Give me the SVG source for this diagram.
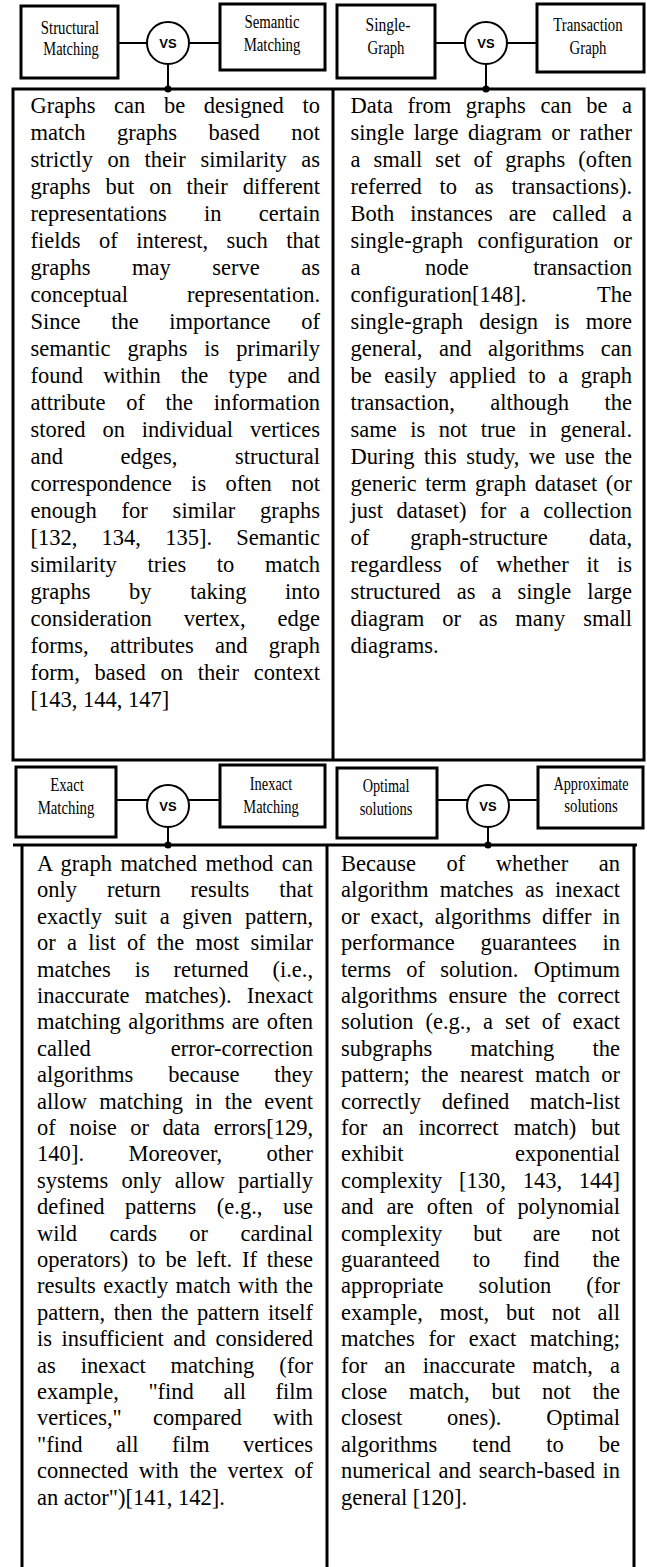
<svg xmlns="http://www.w3.org/2000/svg" width="647" height="1567" viewBox="0 0 647 1567">
  <style>
    .box { fill: #fff; stroke: #000; stroke-width: 3; }
    .hub { fill: #fff; stroke: #000; stroke-width: 2; }
    .wire { stroke: #000; stroke-width: 2; fill: none; }
    .frame { fill: none; stroke: #000; stroke-width: 3; }
    .lbl { font-family: "Liberation Serif", "Times New Roman", serif; font-size: 18.5px; text-anchor: middle; fill: #000; }
    .vs { font-family: "Liberation Sans", Arial, sans-serif; font-weight: bold; font-size: 13px; text-anchor: middle; fill: #000; }
    .body { font-family: "Liberation Serif", "Times New Roman", serif; font-size: 22.5px; fill: #000; }
  </style>

  <!-- panel frames -->
  <g id="frames">
    <rect class="frame" x="13" y="89" width="631" height="671"/>
    <line class="frame" x1="333" y1="89" x2="333" y2="760"/>
    <line class="frame" x1="13" y1="845" x2="637" y2="845"/>
    <line class="frame" x1="22" y1="845" x2="22" y2="1567"/>
    <line class="frame" x1="327" y1="845" x2="327" y2="1567"/>
    <line class="frame" x1="634" y1="845" x2="634" y2="1567"/>
  </g>

  <!-- connectors: box to hub, hub to panel -->
  <g id="connectors">
    <line class="wire" x1="118" y1="43" x2="147" y2="43"/>
    <line class="wire" x1="189" y1="43" x2="220" y2="43"/>
    <line class="wire" x1="168" y1="64" x2="168" y2="89"/>
    <circle cx="168" cy="89" r="3.5"/>
    <line class="wire" x1="435" y1="43" x2="465" y2="43"/>
    <line class="wire" x1="507" y1="43" x2="537" y2="43"/>
    <line class="wire" x1="486" y1="64" x2="486" y2="89"/>
    <circle cx="486" cy="89" r="3.5"/>
    <line class="wire" x1="116" y1="800" x2="148" y2="800"/>
    <line class="wire" x1="188" y1="800" x2="220" y2="800"/>
    <line class="wire" x1="168" y1="827" x2="168" y2="845"/>
    <circle cx="168" cy="845" r="3.5"/>
    <line class="wire" x1="437" y1="800" x2="468" y2="800"/>
    <line class="wire" x1="508" y1="800" x2="538" y2="800"/>
    <line class="wire" x1="488" y1="827" x2="488" y2="845"/>
    <circle cx="488" cy="845" r="3.5"/>
  </g>

  <!-- header row 1 (labels set in a narrowed serif) -->
  <g id="structural-matching">
    <rect class="box" x="21" y="6" width="97" height="72"/>
    <text class="lbl" transform="translate(70,34) scale(0.8,1)">Structural</text>
    <text class="lbl" transform="translate(71,55) scale(0.78,1)">Matching</text>
  </g>
  <g id="vs-1">
    <circle class="hub" cx="168" cy="43" r="21"/>
    <text class="vs" x="168" y="48">VS</text>
  </g>
  <g id="semantic-matching">
    <rect class="box" x="220" y="4" width="105" height="66"/>
    <text class="lbl" transform="translate(272,28) scale(0.8,1)">Semantic</text>
    <text class="lbl" transform="translate(272,51) scale(0.8,1)">Matching</text>
  </g>
  <g id="single-graph">
    <rect class="box" x="337" y="5" width="98" height="73"/>
    <text class="lbl" transform="translate(388,31) scale(0.84,1)">Single-</text>
    <text class="lbl" transform="translate(386,54) scale(0.8,1)">Graph</text>
  </g>
  <g id="vs-2">
    <circle class="hub" cx="486" cy="43" r="21"/>
    <text class="vs" x="486" y="48">VS</text>
  </g>
  <g id="transaction-graph">
    <rect class="box" x="537" y="4" width="107" height="68"/>
    <text class="lbl" transform="translate(588,31) scale(0.8,1)">Transaction</text>
    <text class="lbl" transform="translate(588,54) scale(0.8,1)">Graph</text>
  </g>

  <!-- header row 2 -->
  <g id="exact-matching">
    <rect class="box" x="16" y="767" width="100" height="70"/>
    <text class="lbl" transform="translate(67,791) scale(0.8,1)">Exact</text>
    <text class="lbl" transform="translate(66,814) scale(0.8,1)">Matching</text>
  </g>
  <g id="vs-3">
    <circle class="hub" cx="168" cy="806" r="21"/>
    <text class="vs" x="168" y="811">VS</text>
  </g>
  <g id="inexact-matching">
    <rect class="box" x="220" y="765" width="105" height="62"/>
    <text class="lbl" transform="translate(271,790) scale(0.78,1)">Inexact</text>
    <text class="lbl" transform="translate(271,813) scale(0.78,1)">Matching</text>
  </g>
  <g id="optimal-solutions">
    <rect class="box" x="337" y="768" width="100" height="70"/>
    <text class="lbl" transform="translate(386,792) scale(0.77,1)">Optimal</text>
    <text class="lbl" transform="translate(386,815) scale(0.79,1)">solutions</text>
  </g>
  <g id="vs-4">
    <circle class="hub" cx="488" cy="806" r="21"/>
    <text class="vs" x="488" y="811">VS</text>
  </g>
  <g id="approximate-solutions">
    <rect class="box" x="538" y="767" width="105" height="61"/>
    <text class="lbl" transform="translate(591,790) scale(0.77,1)">Approximate</text>
    <text class="lbl" transform="translate(591,812) scale(0.8,1)">solutions</text>
  </g>

  <!-- panel: structural vs semantic -->
  <g id="panel-structural-semantic" class="body">
    <text x="30.5" y="113" textLength="289.5" lengthAdjust="spacing" word-spacing="13">Graphs can be designed to</text>
    <text x="30.5" y="140" textLength="289.5" lengthAdjust="spacing" word-spacing="25.9">match graphs based not</text>
    <text x="30.5" y="167" textLength="289.5" lengthAdjust="spacing" word-spacing="8.9">strictly on their similarity as</text>
    <text x="30.5" y="194" textLength="289.5" lengthAdjust="spacing" word-spacing="9.2">graphs but on their different</text>
    <text x="30.5" y="221" textLength="289.5" lengthAdjust="spacing" word-spacing="31.6">representations in certain</text>
    <text x="30.5" y="248" textLength="289.5" lengthAdjust="spacing" word-spacing="12.8">fields of interest, such that</text>
    <text x="30.5" y="275" textLength="289.5" lengthAdjust="spacing" word-spacing="35.9">graphs may serve as</text>
    <text x="30.5" y="302" textLength="289.5" lengthAdjust="spacing" word-spacing="53.3">conceptual representation.</text>
    <text x="30.5" y="329" textLength="289.5" lengthAdjust="spacing" word-spacing="25">Since the importance of</text>
    <text x="30.5" y="356" textLength="289.5" lengthAdjust="spacing" word-spacing="11.3">semantic graphs is primarily</text>
    <text x="30.5" y="383" textLength="289.5" lengthAdjust="spacing" word-spacing="14.6">found within the type and</text>
    <text x="30.5" y="410" textLength="289.5" lengthAdjust="spacing" word-spacing="15">attribute of the information</text>
    <text x="30.5" y="437" textLength="289.5" lengthAdjust="spacing" word-spacing="11.3">stored on individual vertices</text>
    <text x="30.5" y="464" textLength="289.5" lengthAdjust="spacing" word-spacing="52">and edges, structural</text>
    <text x="30.5" y="491" textLength="289.5" lengthAdjust="spacing" word-spacing="13.8">correspondence is often not</text>
    <text x="30.5" y="518" textLength="289.5" lengthAdjust="spacing" word-spacing="19.2">enough for similar graphs</text>
    <text x="30.5" y="545" textLength="289.5" lengthAdjust="spacing" word-spacing="18.6">[132, 134, 135]. Semantic</text>
    <text x="30.5" y="572" textLength="289.5" lengthAdjust="spacing" word-spacing="25">similarity tries to match</text>
    <text x="30.5" y="599" textLength="289.5" lengthAdjust="spacing" word-spacing="33">graphs by taking into</text>
    <text x="30.5" y="626" textLength="289.5" lengthAdjust="spacing" word-spacing="26.3">consideration vertex, edge</text>
    <text x="30.5" y="653" textLength="289.5" lengthAdjust="spacing" word-spacing="15.7">forms, attributes and graph</text>
    <text x="30.5" y="680" textLength="289.5" lengthAdjust="spacing" word-spacing="9.1">form, based on their context</text>
    <text x="30.5" y="707">[143, 144, 147]</text>
  </g>

  <!-- panel: single-graph vs transaction graph -->
  <g id="panel-single-transaction" class="body">
    <text x="350.5" y="113" textLength="281.5" lengthAdjust="spacing" word-spacing="8.9">Data from graphs can be a</text>
    <text x="350.5" y="140" textLength="281.5" lengthAdjust="spacing" word-spacing="3.8">single large diagram or rather</text>
    <text x="350.5" y="167" textLength="281.5" lengthAdjust="spacing" word-spacing="7.4">a small set of graphs (often</text>
    <text x="350.5" y="194" textLength="281.5" lengthAdjust="spacing" word-spacing="12.2">referred to as transactions).</text>
    <text x="350.5" y="221" textLength="281.5" lengthAdjust="spacing" word-spacing="10.4">Both instances are called a</text>
    <text x="350.5" y="248" textLength="281.5" lengthAdjust="spacing" word-spacing="8.9">single-graph configuration or</text>
    <text x="350.5" y="275" textLength="281.5" lengthAdjust="spacing" word-spacing="58.9">a node transaction</text>
    <text x="350.5" y="302" textLength="281.5" lengthAdjust="spacing" word-spacing="65.3">configuration[148]. The</text>
    <text x="350.5" y="329" textLength="281.5" lengthAdjust="spacing" word-spacing="10.7">single-graph design is more</text>
    <text x="350.5" y="356" textLength="281.5" lengthAdjust="spacing" word-spacing="10.9">general, and algorithms can</text>
    <text x="350.5" y="383" textLength="281.5" lengthAdjust="spacing" word-spacing="6.9">be easily applied to a graph</text>
    <text x="350.5" y="410" textLength="281.5" lengthAdjust="spacing" word-spacing="29.8">transaction, although the</text>
    <text x="350.5" y="437" textLength="281.5" lengthAdjust="spacing" word-spacing="7.8">same is not true in general.</text>
    <text x="350.5" y="464" textLength="281.5" lengthAdjust="spacing" word-spacing="3.8">During this study, we use the</text>
    <text x="350.5" y="491" textLength="281.5" lengthAdjust="spacing" word-spacing="2.9">generic term graph dataset (or</text>
    <text x="350.5" y="518" textLength="281.5" lengthAdjust="spacing" word-spacing="7.9">just dataset) for a collection</text>
    <text x="350.5" y="545" textLength="281.5" lengthAdjust="spacing" word-spacing="35.5">of graph-structure data,</text>
    <text x="350.5" y="572" textLength="281.5" lengthAdjust="spacing" word-spacing="12.3">regardless of whether it is</text>
    <text x="350.5" y="599" textLength="281.5" lengthAdjust="spacing" word-spacing="10.4">structured as a single large</text>
    <text x="350.5" y="626" textLength="281.5" lengthAdjust="spacing" word-spacing="12.2">diagram or as many small</text>
    <text x="350.5" y="653">diagrams.</text>
  </g>

  <!-- panel: exact vs inexact -->
  <g id="panel-exact-inexact" class="body">
    <text x="37" y="871" textLength="276" lengthAdjust="spacing" word-spacing="2.8">A graph matched method can</text>
    <text x="37" y="897.4" textLength="276" lengthAdjust="spacing" word-spacing="24.3">only return results that</text>
    <text x="37" y="923.8" textLength="276" lengthAdjust="spacing" word-spacing="7">exactly suit a given pattern,</text>
    <text x="37" y="950.2" textLength="276" lengthAdjust="spacing" word-spacing="5.6">or a list of the most similar</text>
    <text x="37" y="976.6" textLength="276" lengthAdjust="spacing" word-spacing="18.3">matches is returned (i.e.,</text>
    <text x="37" y="1003" textLength="276" lengthAdjust="spacing" word-spacing="9.6">inaccurate matches). Inexact</text>
    <text x="37" y="1029.4" textLength="276" lengthAdjust="spacing" word-spacing="1.8">matching algorithms are often</text>
    <text x="37" y="1055.8" textLength="276" lengthAdjust="spacing" word-spacing="74.2">called error-correction</text>
    <text x="37" y="1082.2" textLength="276" lengthAdjust="spacing" word-spacing="29.2">algorithms because they</text>
    <text x="37" y="1108.6" textLength="276" lengthAdjust="spacing" word-spacing="6.5">allow matching in the event</text>
    <text x="37" y="1135" textLength="276" lengthAdjust="spacing" word-spacing="7.9">of noise or data errors[129,</text>
    <text x="37" y="1161.4" textLength="276" lengthAdjust="spacing" word-spacing="38.6">140]. Moreover, other</text>
    <text x="37" y="1187.8" textLength="276" lengthAdjust="spacing" word-spacing="7.6">systems only allow partially</text>
    <text x="37" y="1214.2" textLength="276" lengthAdjust="spacing" word-spacing="14.9">defined patterns (e.g., use</text>
    <text x="37" y="1240.6" textLength="276" lengthAdjust="spacing" word-spacing="26.8">wild cards or cardinal</text>
    <text x="37" y="1267" textLength="276" lengthAdjust="spacing" word-spacing="4.2">operators) to be left. If these</text>
    <text x="37" y="1293.4" textLength="276" lengthAdjust="spacing" word-spacing="1.8">results exactly match with the</text>
    <text x="37" y="1319.8" textLength="276" lengthAdjust="spacing" word-spacing="2.9">pattern, then the pattern itself</text>
    <text x="37" y="1346.2" textLength="276" lengthAdjust="spacing" word-spacing="3.9">is insufficient and considered</text>
    <text x="37" y="1372.6" textLength="276" lengthAdjust="spacing" word-spacing="19.3">as inexact matching (for</text>
    <text x="37" y="1399" textLength="276" lengthAdjust="spacing" word-spacing="23.9">example, "find all film</text>
    <text x="37" y="1425.4" textLength="276" lengthAdjust="spacing" word-spacing="25.6">vertices," compared with</text>
    <text x="37" y="1451.8" textLength="276" lengthAdjust="spacing" word-spacing="27.9">"find all film vertices</text>
    <text x="37" y="1478.2" textLength="276" lengthAdjust="spacing" word-spacing="4.9">connected with the vertex of</text>
    <text x="37" y="1504.6">an actor")[141, 142].</text>
  </g>

  <!-- panel: optimal vs approximate -->
  <g id="panel-optimal-approximate" class="body">
    <text x="341" y="871" textLength="279" lengthAdjust="spacing" word-spacing="24.9">Because of whether an</text>
    <text x="341" y="897.4" textLength="279" lengthAdjust="spacing" word-spacing="5.7">algorithm matches as inexact</text>
    <text x="341" y="923.8" textLength="279" lengthAdjust="spacing" word-spacing="5.2">or exact, algorithms differ in</text>
    <text x="341" y="950.2" textLength="279" lengthAdjust="spacing" word-spacing="20.2">performance guarantees in</text>
    <text x="341" y="976.6" textLength="279" lengthAdjust="spacing" word-spacing="9.7">terms of solution. Optimum</text>
    <text x="341" y="1003" textLength="279" lengthAdjust="spacing" word-spacing="5.7">algorithms ensure the correct</text>
    <text x="341" y="1029.4" textLength="279" lengthAdjust="spacing" word-spacing="6.3">solution (e.g., a set of exact</text>
    <text x="341" y="1055.8" textLength="279" lengthAdjust="spacing" word-spacing="32.6">subgraphs matching the</text>
    <text x="341" y="1082.2" textLength="279" lengthAdjust="spacing" word-spacing="5.7">pattern; the nearest match or</text>
    <text x="341" y="1108.6" textLength="279" lengthAdjust="spacing" word-spacing="15.1">correctly defined match-list</text>
    <text x="341" y="1135" textLength="279" lengthAdjust="spacing" word-spacing="9.4">for an incorrect match) but</text>
    <text x="341" y="1161.4" textLength="279" lengthAdjust="spacing" word-spacing="105.9">exhibit exponential</text>
    <text x="341" y="1187.8" textLength="279" lengthAdjust="spacing" word-spacing="11.1">complexity [130, 143, 144]</text>
    <text x="341" y="1214.2" textLength="279" lengthAdjust="spacing" word-spacing="7.3">and are often of polynomial</text>
    <text x="341" y="1240.6" textLength="279" lengthAdjust="spacing" word-spacing="25.3">complexity but are not</text>
    <text x="341" y="1267" textLength="279" lengthAdjust="spacing" word-spacing="27.4">guaranteed to find the</text>
    <text x="341" y="1293.4" textLength="279" lengthAdjust="spacing" word-spacing="29.5">appropriate solution (for</text>
    <text x="341" y="1319.8" textLength="279" lengthAdjust="spacing" word-spacing="11.3">example, most, but not all</text>
    <text x="341" y="1346.2" textLength="279" lengthAdjust="spacing" word-spacing="8.2">matches for exact matching;</text>
    <text x="341" y="1372.6" textLength="279" lengthAdjust="spacing" word-spacing="11.5">for an inaccurate match, a</text>
    <text x="341" y="1399" textLength="279" lengthAdjust="spacing" word-spacing="16.1">close match, but not the</text>
    <text x="341" y="1425.4" textLength="279" lengthAdjust="spacing" word-spacing="39.2">closest ones). Optimal</text>
    <text x="341" y="1451.8" textLength="279" lengthAdjust="spacing" word-spacing="29.5">algorithms tend to be</text>
    <text x="341" y="1478.2" textLength="279" lengthAdjust="spacing" word-spacing="2">numerical and search-based in</text>
    <text x="341" y="1504.6">general [120].</text>
  </g>
</svg>
